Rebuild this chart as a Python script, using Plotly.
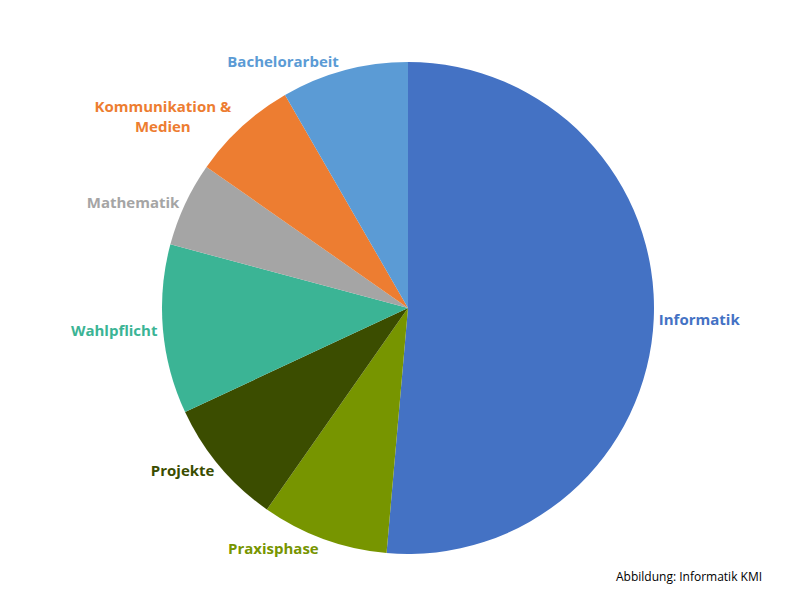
import plotly.graph_objects as go

labels = ["Informatik", "Praxisphase", "Projekte", "Wahlpflicht", "Mathematik",
          "Kommunikation &<br>Medien", "Bachelorarbeit"]
credits = [92.5, 15, 15, 20, 10, 12.5, 15]
colors = ["#4472c4", "#779500", "#3b4d00", "#3bb495", "#a5a5a5", "#ed7d31", "#5b9bd5"]

fig = go.Figure(go.Pie(
    labels=labels,
    values=credits,
    sort=False,
    direction="clockwise",
    rotation=0,
    marker=dict(colors=colors, line=dict(width=0)),
    textinfo="label",
    textposition="outside",
    outsidetextfont=dict(color=colors, size=15, family="Open Sans"),
    texttemplate="<b>%{label}</b>",
    hoverinfo="label+value",
    domain=dict(x=[154 / 800, 646 / 800], y=[0.09, 0.91]),
    showlegend=False,
))

fig.add_annotation(text="Abbildung: Informatik KMI", x=0.945, y=0.035,
                   xref="paper", yref="paper", xanchor="right", showarrow=False,
                   font=dict(size=12, color="black", family="Open Sans"))

fig.update_layout(width=800, height=600, margin=dict(l=0, r=0, t=0, b=0),
                  paper_bgcolor="white")

fig.write_html("out.html")
